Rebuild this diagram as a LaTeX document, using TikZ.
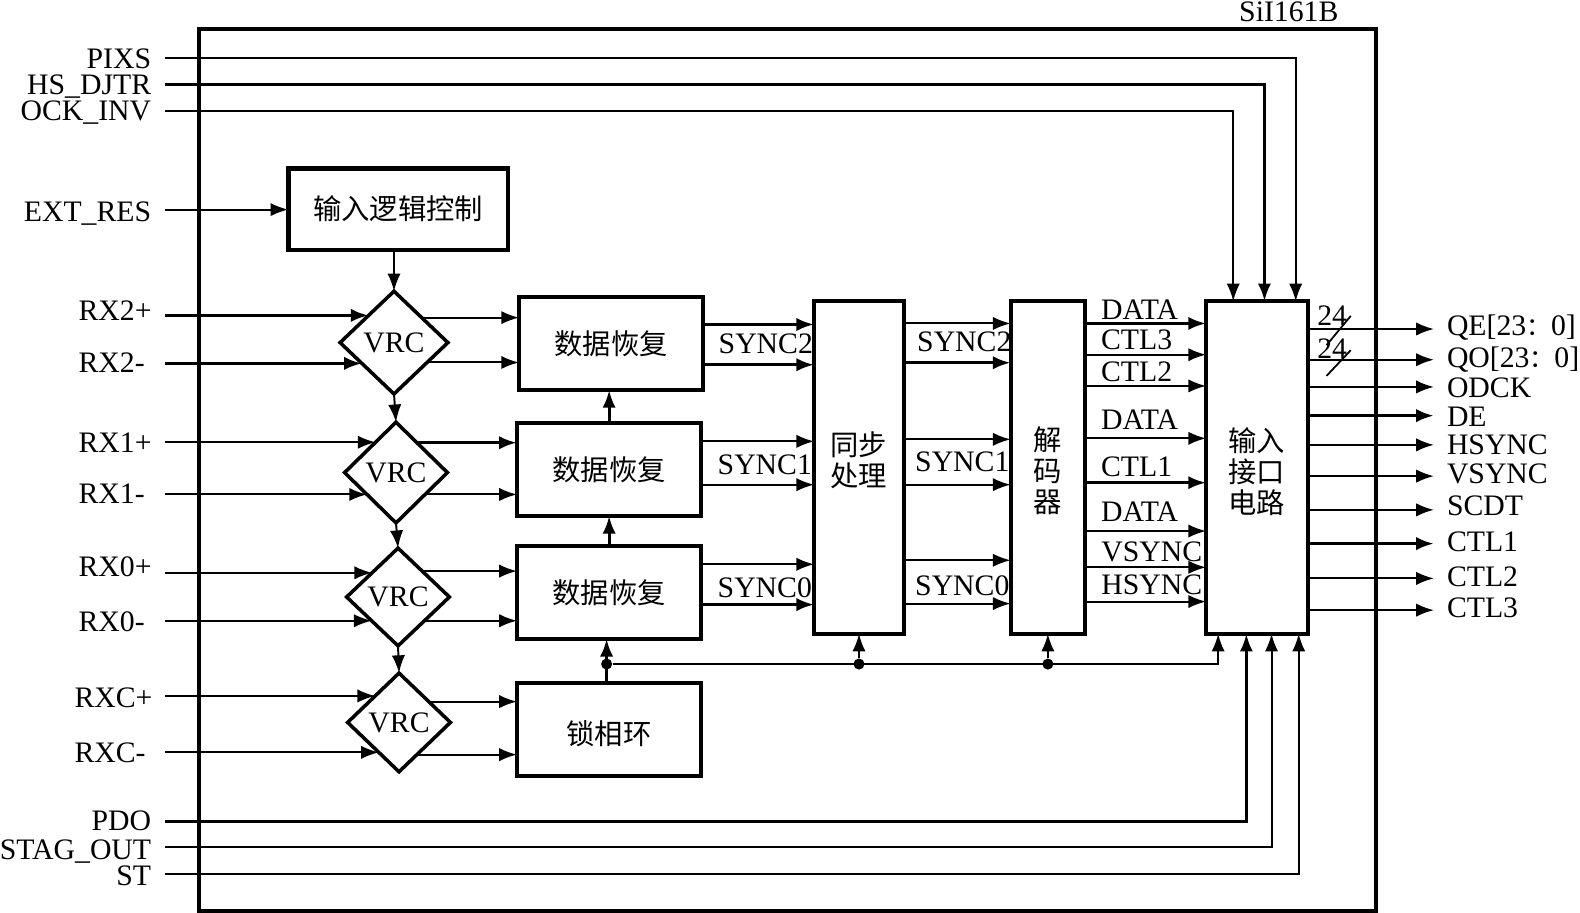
\documentclass[tikz,border=0pt]{standalone}
\usepackage{fontspec}
\usepackage{tikz}
\usetikzlibrary{arrows.meta,positioning,shapes.geometric}
\setmainfont{Liberation Serif}
\newfontfamily\cjk{Noto Sans CJK SC}

\begin{document}
\begin{tikzpicture}[x=0.02cm,y=-0.02cm,font=\fontsize{16.8}{18}\selectfont]
  \tikzstyle{block}=[draw,line width=2.2pt,inner sep=0pt,outer sep=0pt,align=center,font=\cjk\fontsize{16}{17.6}\selectfont]
  \tikzstyle{blocktext}=[inner sep=0pt,align=center,font=\cjk\fontsize{16}{17.6}\selectfont]
  \tikzstyle{rec}=[block,minimum width=3.66cm,minimum height=1.84cm]
  \tikzstyle{tall}=[block,minimum height=6.6cm]
  \tikzstyle{vrc}=[draw,diamond,line width=2pt,inner sep=0pt,outer sep=0pt,aspect=1]
  \tikzstyle{wire}=[line width=1.1pt,-{Latex[length=10pt,width=7.5pt]}]
  \tikzstyle{bold wire}=[wire,line width=1.8pt]
  \tikzstyle{portin}=[anchor=east,inner xsep=0.28cm,inner ysep=0pt,outer sep=0pt]
  \tikzstyle{rxport}=[portin,text width=1.44cm,align=left]
  \tikzstyle{portout}=[anchor=west,inner xsep=0.26cm,inner ysep=0pt,outer sep=0pt]
  \tikzstyle{sig}=[inner sep=0pt]
  \tikzstyle{dot}=[circle,fill,inner sep=0pt,minimum size=0.22cm]
  \useasboundingbox (0,0) rectangle (1568,906);

  \node[draw,line width=2.3pt,minimum width=23.38cm,minimum height=17.5cm,inner sep=0pt] (chip) at (781.5,466.5) {};
  \node[sig] (chipname) at (1279,12) {SiI161B};

  \node[block,line width=2.6pt,minimum width=4.36cm,minimum height=1.62cm] (logic) at (395,207.5) {输入逻辑控制};
  \node[vrc,minimum width=2.14cm,minimum height=2.04cm] (vrcb) at (391,340) {VRC};
  \node[vrc,minimum width=2.04cm,minimum height=2cm,below=0.56cm of vrcb,xshift=0.04cm] (vrca) {VRC};
  \node[vrc,minimum width=2.04cm,minimum height=1.94cm,below=0.5cm of vrca,xshift=0.04cm] (vrcz) {VRC};
  \node[vrc,minimum width=2.04cm,minimum height=1.96cm,below=0.54cm of vrcz,xshift=0.02cm] (vrcc) {VRC};

  \node[rec] (reca) at (604.5,466) {数据恢复};
  \node[rec,above=0.66cm of reca,xshift=0.04cm] (recb) {数据恢复};
  \node[rec,below=0.6cm of reca] (recz) {数据恢复};
  \node[rec,below=0.88cm of recz] (pll) {};
  \node[tall,minimum width=1.78cm,right=2.24cm of reca,yshift=0.04cm] (syn) {};
  \node[tall,minimum width=1.48cm,right=2.12cm of syn] (dec) {};
  \node[tall,minimum width=2.02cm,right=2.4cm of dec] (ifc) {};
  \node[blocktext] (plltext) at ([yshift=-0.08cm]pll.center) {锁相环};
  \node[blocktext] (syntext) at ([yshift=0.14cm]syn.center) {同步\\处理};
  \node[blocktext] (dectext) at ([yshift=-0.06cm]dec.center) {解\\码\\器};
  \node[blocktext] (ifctext) at ([yshift=-0.08cm]ifc.center) {输入\\接口\\电路};

  \node[portin] (pixs) at (164,58) {PIXS};
  \node[portin] (djtr) at (164,86) {HS\_DJTR};
  \node[portin] (ockinv) at (164,112) {OCK\_INV};
  \node[portin] (extres) at (164,212) {EXT\_RES};
  \node[rxport] (rxbp) at (164,308) {RX2+};
  \node[rxport] (rxbm) at (164,360) {RX2-};
  \node[rxport] (rxap) at (164,439) {RX1+};
  \node[rxport] (rxam) at (164,490) {RX1-};
  \node[rxport] (rxzp) at (164,562) {RX0+};
  \node[rxport] (rxzm) at (164,617) {RX0-};
  \node[rxport,text width=1.52cm] (rxcp) at (164,692) {RXC+};
  \node[rxport,text width=1.52cm] (rxcm) at (164,747) {RXC-};
  \node[portin] (pdo) at (164,815) {PDO};
  \node[portin] (stag) at (164,845) {STAG\_OUT};
  \node[portin] (st) at (164,869) {ST};

  \node[portout] (qe) at (1423,325) {QE[23{\cjk\fontsize{14}{14}\selectfont ：}0]};
  \node[portout] (qo) at (1423,357) {QO[23{\cjk\fontsize{14}{14}\selectfont ：}0]};
  \node[portout] (odck) at (1423,385) {ODCK};
  \node[portout] (de) at (1423,413.5) {DE};
  \node[portout] (hsync) at (1423,441.5) {HSYNC};
  \node[portout] (vsync) at (1423,470.5) {VSYNC};
  \node[portout] (scdt) at (1423,502) {SCDT};
  \node[portout] (ctla) at (1423,537.5) {CTL1};
  \node[portout] (ctlb) at (1423,572.5) {CTL2};
  \node[portout] (ctlc) at (1423,603.5) {CTL3};

  \draw[wire] (pixs.east |- 0,58) -| ([xshift=0.77cm]ifc.north);
  \draw[bold wire] (djtr.east |- 0,84) -| ([xshift=0.15cm]ifc.north);
  \draw[wire] (ockinv.east |- 0,110) -| ([xshift=-0.47cm]ifc.north);
  \draw[wire] (extres.east |- 0,208) -- (logic.west |- 0,208);
  \draw[wire] (logic.south -| vrcb.north) -- (vrcb.north);
  \draw[wire] (vrcb.south) -- (vrca.north);
  \draw[wire] (vrca.south) -- (vrcz.north);
  \draw[wire] (vrcz.south) -- (vrcc.north);

  \draw[bold wire] (rxbp.east |- vrcb.133) -- (vrcb.133);
  \draw[bold wire] (rxbm.east |- vrcb.213.7) -- (vrcb.213.7);
  \draw[wire] (rxap.east |- vrca.124.2) -- (vrca.124.2);
  \draw[wire] (rxam.east |- vrca.217.6) -- (vrca.217.6);
  \draw[wire] (rxzp.east |- vrcz.137.1) -- (vrcz.137.1);
  \draw[wire] (rxzm.east |- vrcz.222.9) -- (vrcz.222.9);
  \draw[wire] (rxcp.east |- vrcc.132.6) -- (vrcc.132.6);
  \draw[wire] (rxcm.east |- vrcc.236.6) -- (vrcc.236.6);

  \draw[wire] (vrcb.42.5) -- (recb.west |- vrcb.42.5);
  \draw[wire] (vrcb.-31.6) -- (recb.west |- vrcb.-31.6);
  \draw[bold wire] (vrca.55.8) -- (reca.west |- vrca.55.8);
  \draw[wire] (vrca.-37.6) -- (reca.west |- vrca.-37.6);
  \draw[wire] (vrcz.47.6) -- (recz.west |- vrcz.47.6);
  \draw[wire] (vrcz.-42.9) -- (recz.west |- vrcz.-42.9);
  \draw[wire] (vrcc.35.8) -- (pll.west |- vrcc.35.8);
  \draw[wire] (vrcc.-61) -- (pll.west |- vrcc.-61);

  \draw[bold wire] (reca.north) -- (reca.north |- recb.south);
  \draw[bold wire] (recz.north) -- (recz.north |- reca.south);

  \draw[bold wire] (recb.east |- 0,322) -- (syn.west |- 0,322);
  \draw[bold wire] (recb.east |- 0,362) -- (syn.west |- 0,362);
  \draw[wire] (reca.east |- 0,438) -- (syn.west |- 0,438);
  \draw[wire] (reca.east |- 0,481) -- (syn.west |- 0,481);
  \draw[wire] (recz.east |- 0,560) -- (syn.west |- 0,560);
  \draw[bold wire] (recz.east |- 0,600) -- (syn.west |- 0,600);
  \node[sig] (syncrb) at (760,341) {SYNC2};
  \node[sig] (syncra) at (759,461) {SYNC1};
  \node[sig] (syncrz) at (759,583) {SYNC0};

  \draw[wire] (syn.east |- 0,321) -- (dec.west |- 0,321);
  \draw[bold wire] (syn.east |- 0,360) -- (dec.west |- 0,360);
  \draw[wire] (syn.east |- 0,436) -- (dec.west |- 0,436);
  \draw[wire] (syn.east |- 0,481) -- (dec.west |- 0,481);
  \draw[wire] (syn.east |- 0,556) -- (dec.west |- 0,556);
  \draw[wire] (syn.east |- 0,599) -- (dec.west |- 0,599);
  \node[sig] (syncdb) at (957,339) {SYNC2};
  \node[sig] (syncda) at (955,458) {SYNC1};
  \node[sig] (syncdz) at (955,581) {SYNC0};

  \draw[bold wire] (dec.east |- 0,321) -- (ifc.west |- 0,321);
  \draw[wire] (dec.east |- 0,352) -- (ifc.west |- 0,352);
  \draw[wire] (dec.east |- 0,383) -- (ifc.west |- 0,383);
  \draw[wire] (dec.east |- 0,435) -- (ifc.west |- 0,435);
  \draw[bold wire] (dec.east |- 0,479) -- (ifc.west |- 0,479);
  \draw[wire] (dec.east |- 0,527) -- (ifc.west |- 0,527);
  \draw[wire] (dec.east |- 0,563) -- (ifc.west |- 0,563);
  \draw[wire] (dec.east |- 0,597) -- (ifc.west |- 0,597);
  \node[sig] (dataa) at (1131,307.5) {DATA};
  \node[sig] (ctlcin) at (1128,337) {CTL3};
  \node[sig] (ctlbin) at (1128,369) {CTL2};
  \node[sig] (datab) at (1131,417) {DATA};
  \node[sig] (ctlain) at (1128,463) {CTL1};
  \node[sig] (datac) at (1131,508) {DATA};
  \node[sig] (vsyncin) at (1143,547.5) {VSYNC};
  \node[sig] (hsyncin) at (1143,580.5) {HSYNC};

  \draw[wire] (ifc.east |- 0,326.5) -- (qe.west |- 0,326.5);
  \draw[wire] (ifc.east |- 0,357) -- (qo.west |- 0,357);
  \draw[wire] (ifc.east |- 0,384) -- (odck.west |- 0,384);
  \draw[bold wire] (ifc.east |- 0,412.5) -- (de.west |- 0,412.5);
  \draw[wire] (ifc.east |- 0,441.5) -- (hsync.west |- 0,441.5);
  \draw[wire] (ifc.east |- 0,472.5) -- (vsync.west |- 0,472.5);
  \draw[wire] (ifc.east |- 0,506) -- (scdt.west |- 0,506);
  \draw[bold wire] (ifc.east |- 0,539.5) -- (ctla.west |- 0,539.5);
  \draw[wire] (ifc.east |- 0,574) -- (ctlb.west |- 0,574);
  \draw[wire] (ifc.east |- 0,605.5) -- (ctlc.west |- 0,605.5);
  \node[sig] (widthe) at (1322,313) {24};
  \node[sig] (widtho) at (1322,346) {24};
  \draw[line width=1pt] (1340.5,313.5) -- (1316.5,342.5);
  \draw[line width=1pt] (1340.5,347.5) -- (1316.5,373);

  \node[dot] (dotpll) at (602,659) {};
  \node[dot] (dotsyn) at (syn.south |- dotpll) {};
  \node[dot] (dotdec) at (dec.south |- dotpll) {};
  \draw[bold wire] (pll.north -| dotpll) -- (recz.south -| dotpll);
  \draw[wire] (dotpll) -| ([xshift=-0.77cm]ifc.south);
  \draw[wire] (dotsyn) -- (syn.south);
  \draw[wire] (dotdec) -- (dec.south);

  \draw[bold wire] (pdo.east |- 0,815) -| ([xshift=-0.21cm]ifc.south);
  \draw[wire] (stag.east |- 0,841) -| ([xshift=0.29cm]ifc.south);
  \draw[wire] (st.east |- 0,867) -| ([xshift=0.83cm]ifc.south);
\end{tikzpicture}
\end{document}
